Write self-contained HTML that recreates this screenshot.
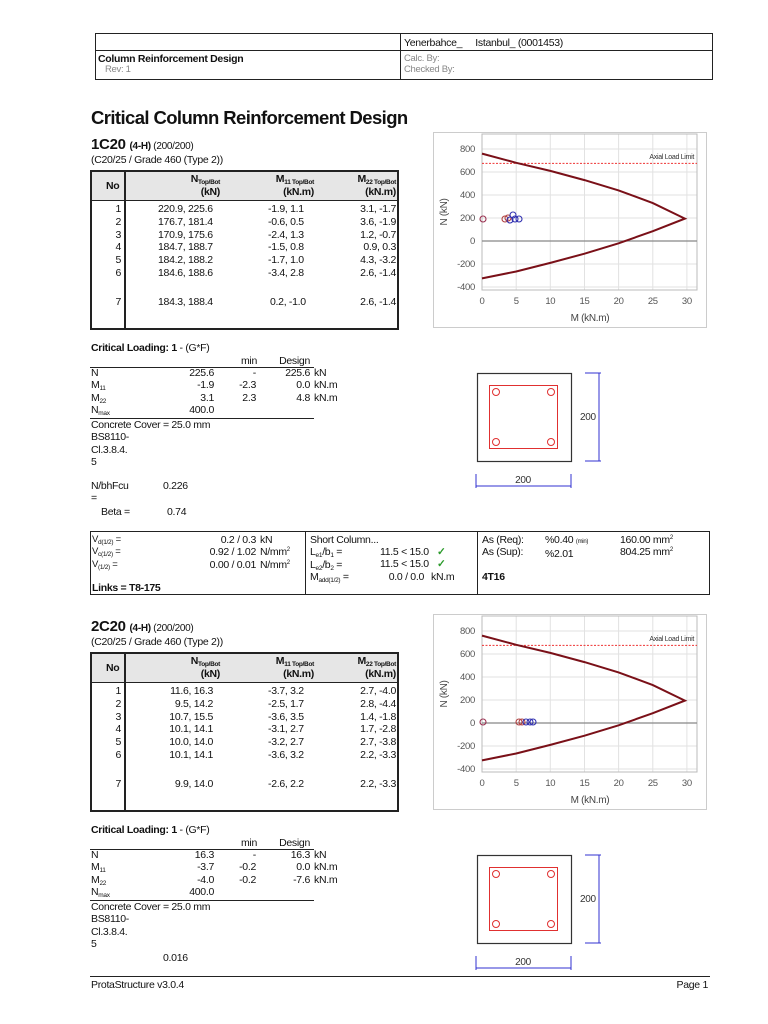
<!DOCTYPE html>
<html><head><meta charset="utf-8"><style>
*{margin:0;padding:0;box-sizing:border-box}
body{width:768px;height:1024px;background:#fff;position:relative;font-family:"Liberation Sans",sans-serif;font-size:10.5px;color:#111;overflow:hidden;letter-spacing:-0.3px}
.a{position:absolute;white-space:nowrap;line-height:12px}
.r{text-align:right}
.b{font-weight:bold}
.g{color:#888}
.ln{position:absolute;background:#222}
sub{font-size:6.5px;vertical-align:baseline;position:relative;top:2px;line-height:0}
sup{font-size:6px;vertical-align:baseline;position:relative;top:-4px;line-height:0}
.tbl{position:absolute;border:2px solid #222;}
.chk{color:#2a9a2a;font-weight:bold}
.rows{line-height:12.8px}
.lr{line-height:12.3px}
.hd{position:absolute;left:92px;top:172px;width:305px;height:29px;background:#e6e6e6;border-bottom:1.5px solid #222}
</style></head><body>

<div class="tbl" style="left:95px;top:33px;width:618px;height:47px;border-width:1.5px"></div>
<div class="ln" style="left:95px;top:50px;width:618px;height:1px"></div>
<div class="ln" style="left:400px;top:33px;width:1px;height:47px"></div>
<div class="a" style="left:404px;top:37px">Yenerbahce_&nbsp;&nbsp;&nbsp;&nbsp;&nbsp;Istanbul_ (0001453)</div>
<div class="a b" style="left:98px;top:53px">Column Reinforcement Design</div>
<div class="a g" style="left:105px;top:64px;font-size:9.5px">Rev: 1</div>
<div class="a g" style="left:404px;top:53px;font-size:9.5px">Calc. By:</div>
<div class="a g" style="left:404px;top:64px;font-size:9.5px">Checked By:</div>

<div class="a b" style="left:91px;top:106px;font-size:18.5px;line-height:24px;letter-spacing:-0.6px">Critical Column Reinforcement Design</div>

<!-- SECTION 1 -->
<div style="position:absolute;left:0;top:0;width:768px;height:482px">
<div class="a b" style="left:91px;top:137px;font-size:15px;line-height:16px">1C20 <span style="font-size:10px;font-weight:normal"><b>(4-H)</b> (200/200)</span></div>
<div class="a" style="left:91px;top:154px">(C20/25 / Grade 460 (Type 2))</div>
<div class="tbl" style="left:90px;top:170px;width:309px;height:160px"></div>
<div class="hd"></div>
<div class="ln" style="left:124px;top:170px;width:1.5px;height:160px"></div>
<div class="a b" style="left:106px;top:180px">No</div>
<div class="a b r" style="left:160px;width:60px;top:173px">N<sub>Top/Bot</sub></div>
<div class="a b r" style="left:160px;width:60px;top:186px">(kN)</div>
<div class="a b r" style="left:250px;width:64px;top:173px">M<sub>11 Top/Bot</sub></div>
<div class="a b r" style="left:250px;width:64px;top:186px">(kN.m)</div>
<div class="a b r" style="left:330px;width:66px;top:173px">M<sub>22 Top/Bot</sub></div>
<div class="a b r" style="left:330px;width:66px;top:186px">(kN.m)</div>
<div class="a r rows" style="left:100px;width:21px;top:203px">1<br>2<br>3<br>4<br>5<br>6</div>
<div class="a rows" style="left:158px;top:203px">220.9, 225.6<br>176.7, 181.4<br>170.9, 175.6<br>184.7, 188.7<br>184.2, 188.2<br>184.6, 188.6</div>
<div class="a rows" style="left:268px;top:203px">-1.9, 1.1<br>-0.6, 0.5<br>-2.4, 1.3<br>-1.5, 0.8<br>-1.7, 1.0<br>-3.4, 2.8</div>
<div class="a r rows" style="left:330px;width:66px;top:203px">3.1, -1.7<br>3.6, -1.9<br>1.2, -0.7<br>0.9, 0.3<br>4.3, -3.2<br>2.6, -1.4</div>
<div class="a r" style="left:100px;width:21px;top:296px">7</div>
<div class="a" style="left:158px;top:296px">184.3, 188.4</div>
<div class="a" style="left:270px;top:296px">0.2, -1.0</div>
<div class="a r" style="left:330px;width:66px;top:296px">2.6, -1.4</div>

<svg style="position:absolute;left:430px;top:130px" width="280" height="200" viewBox="0 0 280 200" font-family="Liberation Sans,sans-serif">
<rect x="3.5" y="2.5" width="273" height="195" fill="#fff" stroke="#ccc"/>
<g stroke="#e2e2e2" stroke-width="1">
<line x1="86.2" y1="4" x2="86.2" y2="160"/><line x1="120.3" y1="4" x2="120.3" y2="160"/><line x1="154.5" y1="4" x2="154.5" y2="160"/><line x1="188.6" y1="4" x2="188.6" y2="160"/><line x1="222.8" y1="4" x2="222.8" y2="160"/><line x1="256.9" y1="4" x2="256.9" y2="160"/>
<line x1="52" y1="19" x2="267" y2="19"/><line x1="52" y1="42" x2="267" y2="42"/><line x1="52" y1="65" x2="267" y2="65"/><line x1="52" y1="88" x2="267" y2="88"/><line x1="52" y1="134" x2="267" y2="134"/><line x1="52" y1="157" x2="267" y2="157"/>
</g>
<rect x="52" y="4" width="215" height="156" fill="none" stroke="#bbb"/>
<line x1="52" y1="111" x2="267" y2="111" stroke="#888" stroke-width="1.2"/>
<line x1="52" y1="33.4" x2="267" y2="33.4" stroke="#e33" stroke-dasharray="2,1.5"/>
<text x="264" y="29" font-size="7" text-anchor="end" fill="#333">Axial Load Limit</text>
<polyline fill="none" stroke="#7a1018" stroke-width="2" points="52,23.6 86.2,32.8 120.3,40.9 154.5,50.1 188.6,60.4 222.8,73.1 254.9,88.6 222.8,101.2 188.6,113.3 154.5,123.7 120.3,132.9 86.2,141.5 52,148.4"/>
<g fill="#555" font-size="9.5" text-anchor="end"><text x="45" y="22">800</text><text x="45" y="45">600</text><text x="45" y="68">400</text><text x="45" y="91">200</text><text x="45" y="114">0</text><text x="45" y="137">-200</text><text x="45" y="160">-400</text></g>
<g fill="#555" font-size="9.5" text-anchor="middle"><text x="52" y="174">0</text><text x="86.2" y="174">5</text><text x="120.3" y="174">10</text><text x="154.5" y="174">15</text><text x="188.6" y="174">20</text><text x="222.8" y="174">25</text><text x="256.9" y="174">30</text></g>
<text x="160" y="191" font-size="10" fill="#444" text-anchor="middle">M (kN.m)</text>
<text transform="translate(17,82) rotate(-90)" font-size="10" fill="#444" text-anchor="middle">N (kN)</text>
<g fill="none" stroke-width="1.1">
<circle cx="53" cy="89" r="3" stroke="#9a3050"/>
<circle cx="75" cy="89" r="3" stroke="#b04040"/><circle cx="78" cy="88" r="3" stroke="#b04040"/>
<circle cx="80" cy="90" r="3" stroke="#3030b0"/><circle cx="83" cy="85" r="3" stroke="#3030b0"/><circle cx="85" cy="89" r="3" stroke="#3030b0"/><circle cx="89" cy="89" r="3" stroke="#3030b0"/>
</g>
</svg>

<div class="a b" style="left:91px;top:342px">Critical Loading: 1 <span style="font-weight:normal">- (G*F)</span></div>
<div class="a r" style="left:225px;width:32px;top:355px">min</div>
<div class="a r" style="left:260px;width:50px;top:355px">Design</div>
<div class="ln" style="left:90px;top:367px;width:224px;height:1px"></div>
<div class="a lr" style="left:91px;top:367px">N<br>M<sub>11</sub><br>M<sub>22</sub><br>N<sub>max</sub></div>
<div class="a r lr" style="left:160px;width:54px;top:367px">225.6<br>-1.9<br>3.1<br>400.0</div>
<div class="a r lr" style="left:220px;width:36px;top:367px">-<br>-2.3<br>2.3</div>
<div class="a r lr" style="left:260px;width:50px;top:367px">225.6<br>0.0<br>4.8</div>
<div class="a lr" style="left:314px;top:367px">kN<br>kN.m<br>kN.m</div>
<div class="ln" style="left:90px;top:418px;width:224px;height:1px"></div>
<div class="a lr" style="left:91px;top:419px">Concrete Cover = 25.0 mm<br>BS8110-<br>Cl.3.8.4.<br>5</div>
<div class="a lr" style="left:91px;top:480px">N/bhFcu<br>=</div>
<div class="a" style="left:163px;top:480px">0.226</div>
<div class="a" style="left:101px;top:506px">Beta =</div>
<div class="a" style="left:167px;top:506px">0.74</div>

<svg style="position:absolute;left:460px;top:360px" width="160" height="140" viewBox="0 0 160 140" font-family="Liberation Sans,sans-serif">
<rect x="17.5" y="13.5" width="94" height="88" fill="none" stroke="#333" stroke-width="1.2"/>
<rect x="29.5" y="25.5" width="68" height="63" fill="none" stroke="#e03030"/>
<g fill="none" stroke="#e03030"><circle cx="36" cy="32" r="3.5"/><circle cx="91" cy="32" r="3.5"/><circle cx="36" cy="82" r="3.5"/><circle cx="91" cy="82" r="3.5"/></g>
<g stroke="#3030d0" fill="none"><line x1="139" y1="13" x2="139" y2="101"/><line x1="125" y1="13" x2="141" y2="13"/><line x1="125" y1="101" x2="141" y2="101"/>
<line x1="16" y1="126" x2="111" y2="126"/><line x1="16" y1="114" x2="16" y2="128"/><line x1="111" y1="114" x2="111" y2="128"/></g>
<text x="120" y="60" font-size="10" fill="#333">200</text>
<text x="63" y="123" font-size="10" fill="#333" text-anchor="middle">200</text>
</svg>
</div>

<div class="tbl" style="left:90px;top:531px;width:620px;height:64px;border-width:1.5px"></div>
<div class="ln" style="left:305px;top:531px;width:1px;height:64px"></div>
<div class="ln" style="left:477px;top:531px;width:1px;height:64px"></div>
<div class="a lr" style="left:92px;top:534px;font-size:9.5px">V<sub>d(1/2)</sub> =<br>V<sub>c(1/2)</sub> =<br>V<sub>(1/2)</sub> =</div>
<div class="a r lr" style="left:190px;width:66px;top:534px">0.2 / 0.3<br>0.92 / 1.02<br>0.00 / 0.01</div>
<div class="a lr" style="left:260px;top:534px">kN<br>N/mm<sup>2</sup><br>N/mm<sup>2</sup></div>
<div class="a b" style="left:92px;top:582px">Links = T8-175</div>
<div class="a lr" style="left:310px;top:534px">Short Column...<br>L<sub>e1</sub>/b<sub>1</sub> =<br>L<sub>e2</sub>/b<sub>2</sub> =<br>M<sub>add(1/2)</sub> =</div>
<div class="a r lr" style="left:380px;width:44px;top:546px">11.5 &lt; 15.0<br>11.5 &lt; 15.0<br>0.0 / 0.0</div>
<div class="a chk lr" style="left:437px;top:546px">✓<br>✓</div>
<div class="a" style="left:431px;top:571px">kN.m</div>
<div class="a lr" style="left:482px;top:534px">As (Req):<br>As (Sup):</div>
<div class="a lr" style="left:545px;top:534px">%0.40 <span style="font-size:6px">(min)</span><br>%2.01</div>
<div class="a lr" style="left:620px;top:534px">160.00 mm<sup>2</sup><br>804.25 mm<sup>2</sup></div>
<div class="a b" style="left:482px;top:571px">4T16</div>

<!-- SECTION 2 -->
<div style="position:absolute;left:0;top:482px;width:768px;height:482px">
<div class="a b" style="left:91px;top:137px;font-size:15px;line-height:16px">2C20 <span style="font-size:10px;font-weight:normal"><b>(4-H)</b> (200/200)</span></div>
<div class="a" style="left:91px;top:154px">(C20/25 / Grade 460 (Type 2))</div>
<div class="tbl" style="left:90px;top:170px;width:309px;height:160px"></div>
<div class="hd"></div>
<div class="ln" style="left:124px;top:170px;width:1.5px;height:160px"></div>
<div class="a b" style="left:106px;top:180px">No</div>
<div class="a b r" style="left:160px;width:60px;top:173px">N<sub>Top/Bot</sub></div>
<div class="a b r" style="left:160px;width:60px;top:186px">(kN)</div>
<div class="a b r" style="left:250px;width:64px;top:173px">M<sub>11 Top/Bot</sub></div>
<div class="a b r" style="left:250px;width:64px;top:186px">(kN.m)</div>
<div class="a b r" style="left:330px;width:66px;top:173px">M<sub>22 Top/Bot</sub></div>
<div class="a b r" style="left:330px;width:66px;top:186px">(kN.m)</div>
<div class="a r rows" style="left:100px;width:21px;top:203px">1<br>2<br>3<br>4<br>5<br>6</div>
<div class="a r rows" style="left:160px;width:53px;top:203px">11.6, 16.3<br>9.5, 14.2<br>10.7, 15.5<br>10.1, 14.1<br>10.0, 14.0<br>10.1, 14.1</div>
<div class="a rows" style="left:268px;top:203px">-3.7, 3.2<br>-2.5, 1.7<br>-3.6, 3.5<br>-3.1, 2.7<br>-3.2, 2.7<br>-3.6, 3.2</div>
<div class="a r rows" style="left:330px;width:66px;top:203px">2.7, -4.0<br>2.8, -4.4<br>1.4, -1.8<br>1.7, -2.8<br>2.7, -3.8<br>2.2, -3.3</div>
<div class="a r" style="left:100px;width:21px;top:296px">7</div>
<div class="a r" style="left:160px;width:53px;top:296px">9.9, 14.0</div>
<div class="a" style="left:268px;top:296px">-2.6, 2.2</div>
<div class="a r" style="left:330px;width:66px;top:296px">2.2, -3.3</div>

<svg style="position:absolute;left:430px;top:130px" width="280" height="200" viewBox="0 0 280 200" font-family="Liberation Sans,sans-serif">
<rect x="3.5" y="2.5" width="273" height="195" fill="#fff" stroke="#ccc"/>
<g stroke="#e2e2e2" stroke-width="1">
<line x1="86.2" y1="4" x2="86.2" y2="160"/><line x1="120.3" y1="4" x2="120.3" y2="160"/><line x1="154.5" y1="4" x2="154.5" y2="160"/><line x1="188.6" y1="4" x2="188.6" y2="160"/><line x1="222.8" y1="4" x2="222.8" y2="160"/><line x1="256.9" y1="4" x2="256.9" y2="160"/>
<line x1="52" y1="19" x2="267" y2="19"/><line x1="52" y1="42" x2="267" y2="42"/><line x1="52" y1="65" x2="267" y2="65"/><line x1="52" y1="88" x2="267" y2="88"/><line x1="52" y1="134" x2="267" y2="134"/><line x1="52" y1="157" x2="267" y2="157"/>
</g>
<rect x="52" y="4" width="215" height="156" fill="none" stroke="#bbb"/>
<line x1="52" y1="111" x2="267" y2="111" stroke="#888" stroke-width="1.2"/>
<line x1="52" y1="33.4" x2="267" y2="33.4" stroke="#e33" stroke-dasharray="2,1.5"/>
<text x="264" y="29" font-size="7" text-anchor="end" fill="#333">Axial Load Limit</text>
<polyline fill="none" stroke="#7a1018" stroke-width="2" points="52,23.6 86.2,32.8 120.3,40.9 154.5,50.1 188.6,60.4 222.8,73.1 254.9,88.6 222.8,101.2 188.6,113.3 154.5,123.7 120.3,132.9 86.2,141.5 52,148.4"/>
<g fill="#555" font-size="9.5" text-anchor="end"><text x="45" y="22">800</text><text x="45" y="45">600</text><text x="45" y="68">400</text><text x="45" y="91">200</text><text x="45" y="114">0</text><text x="45" y="137">-200</text><text x="45" y="160">-400</text></g>
<g fill="#555" font-size="9.5" text-anchor="middle"><text x="52" y="174">0</text><text x="86.2" y="174">5</text><text x="120.3" y="174">10</text><text x="154.5" y="174">15</text><text x="188.6" y="174">20</text><text x="222.8" y="174">25</text><text x="256.9" y="174">30</text></g>
<text x="160" y="191" font-size="10" fill="#444" text-anchor="middle">M (kN.m)</text>
<text transform="translate(17,82) rotate(-90)" font-size="10" fill="#444" text-anchor="middle">N (kN)</text>
<g fill="none" stroke-width="1.1">
<circle cx="53" cy="110" r="3" stroke="#9a3050"/>
<circle cx="89" cy="110" r="3" stroke="#b04040"/><circle cx="92" cy="110" r="3" stroke="#b04040"/>
<circle cx="96" cy="110" r="3" stroke="#3030b0"/><circle cx="100" cy="110" r="3" stroke="#3030b0"/><circle cx="103" cy="110" r="3" stroke="#3030b0"/>
</g>
</svg>

<div class="a b" style="left:91px;top:342px">Critical Loading: 1 <span style="font-weight:normal">- (G*F)</span></div>
<div class="a r" style="left:225px;width:32px;top:355px">min</div>
<div class="a r" style="left:260px;width:50px;top:355px">Design</div>
<div class="ln" style="left:90px;top:367px;width:224px;height:1px"></div>
<div class="a lr" style="left:91px;top:367px">N<br>M<sub>11</sub><br>M<sub>22</sub><br>N<sub>max</sub></div>
<div class="a r lr" style="left:160px;width:54px;top:367px">16.3<br>-3.7<br>-4.0<br>400.0</div>
<div class="a r lr" style="left:220px;width:36px;top:367px">-<br>-0.2<br>-0.2</div>
<div class="a r lr" style="left:260px;width:50px;top:367px">16.3<br>0.0<br>-7.6</div>
<div class="a lr" style="left:314px;top:367px">kN<br>kN.m<br>kN.m</div>
<div class="ln" style="left:90px;top:418px;width:224px;height:1px"></div>
<div class="a lr" style="left:91px;top:419px">Concrete Cover = 25.0 mm<br>BS8110-<br>Cl.3.8.4.<br>5</div>
<div class="a" style="left:163px;top:470px">0.016</div>

<svg style="position:absolute;left:460px;top:360px" width="160" height="140" viewBox="0 0 160 140" font-family="Liberation Sans,sans-serif">
<rect x="17.5" y="13.5" width="94" height="88" fill="none" stroke="#333" stroke-width="1.2"/>
<rect x="29.5" y="25.5" width="68" height="63" fill="none" stroke="#e03030"/>
<g fill="none" stroke="#e03030"><circle cx="36" cy="32" r="3.5"/><circle cx="91" cy="32" r="3.5"/><circle cx="36" cy="82" r="3.5"/><circle cx="91" cy="82" r="3.5"/></g>
<g stroke="#3030d0" fill="none"><line x1="139" y1="13" x2="139" y2="101"/><line x1="125" y1="13" x2="141" y2="13"/><line x1="125" y1="101" x2="141" y2="101"/>
<line x1="16" y1="126" x2="111" y2="126"/><line x1="16" y1="114" x2="16" y2="128"/><line x1="111" y1="114" x2="111" y2="128"/></g>
<text x="120" y="60" font-size="10" fill="#333">200</text>
<text x="63" y="123" font-size="10" fill="#333" text-anchor="middle">200</text>
</svg>
</div>

<div class="ln" style="left:90px;top:976px;width:620px;height:1px"></div>
<div class="a" style="left:91px;top:979px">ProtaStructure v3.0.4</div>
<div class="a r" style="left:620px;width:88px;top:979px">Page 1</div>
</body></html>
